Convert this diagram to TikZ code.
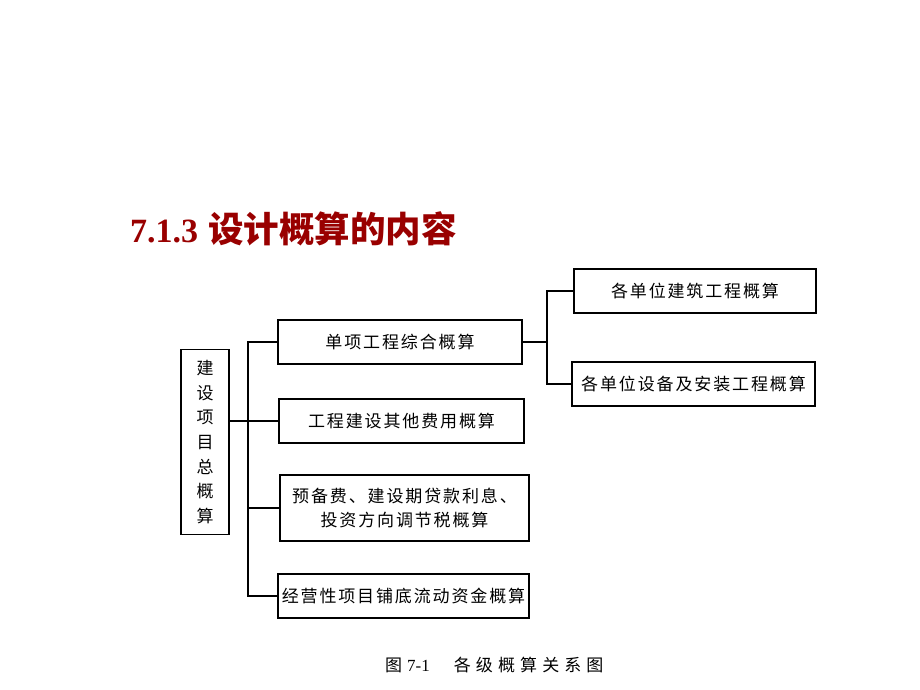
\documentclass[tikz,border=0pt]{standalone}
\usepackage{fontspec}
\setmainfont{Liberation Serif}
\newfontfamily\cjk{Noto Sans CJK SC}
\newfontfamily\cjkbox[LetterSpace=11]{Noto Sans CJK SC}
\newfontfamily\cjkcap[LetterSpace=30]{Noto Sans CJK SC}
\usetikzlibrary{positioning}
\definecolor{titlered}{RGB}{153,0,0}

\begin{document}
\begin{tikzpicture}[x=1pt,y=-1pt]
				\tikzset{box/.style = {shape=rectangle, draw, line width=1.6pt, inner sep=0pt, align=center, font=\cjkbox\fontsize{17}{24}\selectfont}}
				\tikzset{link/.style = {line width=1.6pt}}
				\useasboundingbox (0,0) rectangle (920,690);
				
				\node[anchor=base west, inner sep=0pt, text=titlered, font=\fontsize{34}{40}\selectfont\bfseries] (TITLE) at (130,242) {7.1.3\hspace{10pt}{\cjk\bfseries\fontsize{35.5}{40}\selectfont 设计概算的内容}};
				
				\node[box, minimum width=48, minimum height=185, font=\cjk\fontsize{17}{24.7}\selectfont] (TOTAL) at (205,442) {建\\设\\项\\目\\总\\概\\算};
				
				\node[box, minimum width=244, minimum height=44] (SINGLE) at (400,342) {单项工程综合概算};
				\node[box, minimum width=245, minimum height=44] (OTHER) at (401.5,421) {工程建设其他费用概算};
				\node[box, minimum width=249, minimum height=66] (RESERVE) at (404.5,508) {预备费、建设期贷款利息、\\投资方向调节税概算};
				\node[box, minimum width=251, minimum height=44] (FUND) at (403.5,596) {经营性项目铺底流动资金概算};
				
				\node[box, minimum width=242, minimum height=44] (BUILD) at (695,291) {各单位建筑工程概算};
				\node[box, minimum width=243, minimum height=44] (EQUIP) at (693.5,384) {各单位设备及安装工程概算};
				
				% left bus
				\draw[link] (SINGLE.west) -- ++(-29,0) coordinate (BUS) |- (FUND.west);
				\draw[link] (TOTAL.east |- OTHER.west) -- (OTHER.west);
				\draw[link] (BUS |- RESERVE.west) -- (RESERVE.west);
				
				% right bus
				\draw[link] (SINGLE.east) -- ++(24,0) coordinate (RBUS) |- (BUILD.west);
				\draw[link] (RBUS) |- (EQUIP.west);
				
				\node[anchor=base west, inner sep=0pt, font=\fontsize{17}{18}\selectfont] (CAPTION) at (385,671) {{\cjk 图}\hspace{5pt}7-1\hspace{24pt}{\cjkcap 各级概算关系图}};
				
\end{tikzpicture}
\end{document}
